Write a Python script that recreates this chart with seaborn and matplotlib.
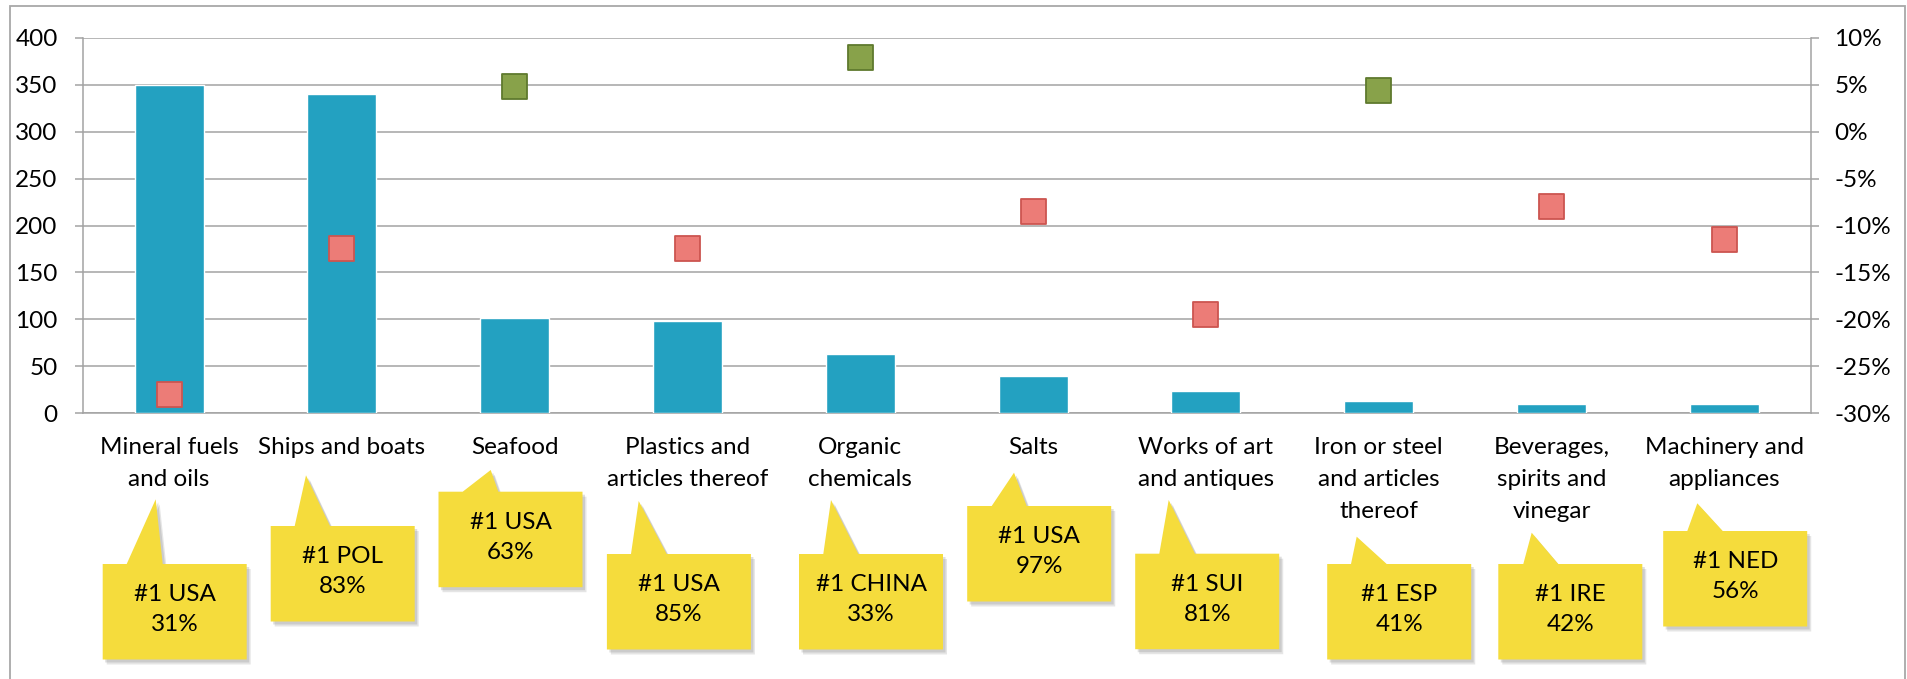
import numpy as np
import pandas as pd
import matplotlib
matplotlib.use("Agg")
import matplotlib.pyplot as plt
from matplotlib.patches import Polygon, Rectangle
import seaborn as sns

# ---------------- data ----------------
categories = ["Mineral fuels\nand oils", "Ships and boats", "Seafood",
              "Plastics and\narticles thereof", "Organic\nchemicals", "Salts",
              "Works of art\nand antiques", "Iron or steel\nand articles\nthereof",
              "Beverages,\nspirits and\nvinegar", "Machinery and\nappliances"]
values = [350, 340, 101, 98, 63, 40, 24, 13, 10, 10]
growth = [-28.0, -12.4, 4.8, -12.4, 7.9, -8.5, -19.5, 4.4, -8.0, -11.5]
leaders = ["USA", "POL", "USA", "USA", "CHINA", "USA", "SUI", "ESP", "IRE", "NED"]
shares = [31, 83, 63, 85, 33, 97, 81, 41, 42, 56]
left_ticks = [0, 50, 100, 150, 200, 250, 300, 350, 400]
right_ticks = [-30, -25, -20, -15, -10, -5, 0, 5, 10]
right_labels = ["-30%", "-25%", "-20%", "-15%", "-10%", "-5%", "0%", "5%", "10%"]

# ---------------- layout (pixels) ----------------
W, H = 1907, 679
# callout: box centre dx, box top y, tip dx, tip y, base-left dx, base-right dx
callout_layout = [
    (5.6, 564, -13.4, 499.3, -42.4, -6.4),
    (0.8, 526, -35.9, 475.3, -47.2, -11.9),
    (-4.2, 491.7, -24.0, 470.0, -52.0, -16.4),
    (-8.6, 554, -48.8, 501.0, -56.5, -20.8),
    (10.7, 554, -29.3, 500.0, -37.0, -2.0),
    (6.1, 506, -19.1, 472.7, -41.4, -6.4),
    (1.3, 553.7, -37.2, 500.0, -46.6, -10.9),
    (20.5, 564, -22.0, 536.7, -27.7, 8.0),
    (18.8, 564, -19.8, 532.7, -28.2, 6.8),
    (10.9, 531, -27.0, 503.3, -37.0, -1.6),
]
BOX_W, BOX_H = 144, 95.5

sns.set_theme(style="white")
FONT = ["Lato", "DejaVu Sans"]
plt.rcParams["font.family"] = FONT
FS = 17.5
GRID = "#a3a3a3"

fig = plt.figure(figsize=(W / 100, H / 100), dpi=100)
ax = fig.add_axes([82.7 / W, 1 - 413.3 / H, (1810.7 - 82.7) / W, (413.3 - 37.7) / H])

df = pd.DataFrame({"cat": categories, "val": values, "growth": growth})
df["sign"] = np.where(df["growth"] >= 0, "up", "down")
df["pos"] = np.arange(len(df))

sns.barplot(data=df, x="pos", y="val", color="#23a1c1", saturation=1,
            width=0.4, ax=ax, zorder=3, native_scale=True)
ax.set_xlim(-0.5, len(df) - 0.5)
ax.set_ylim(0, 400)
ax.set_yticks(left_ticks)
ax.set_yticklabels([str(t) for t in left_ticks], fontsize=FS, color="black")
ax.set_xlabel("")
ax.set_ylabel("")
ax.grid(axis="y", color=GRID, linewidth=1.1, zorder=0)
ax.grid(axis="x", visible=False)
ax.set_axisbelow(True)
for s in ["top", "right"]:
    ax.spines[s].set_visible(False)
for s in ["left", "bottom"]:
    ax.spines[s].set_color(GRID)
    ax.spines[s].set_linewidth(1.1)

ax.set_xticks(df["pos"])
ax.set_xticklabels(categories, fontsize=FS, linespacing=1.64, color="black")
ax.set_xticks(np.arange(-0.5, len(df), 1.0), minor=True)
ax.tick_params(axis="x", which="major", length=0, pad=17)
ax.tick_params(axis="x", which="minor", length=6, width=1.1, color=GRID, direction="out")
ax.tick_params(axis="y", which="major", left=True, length=6, width=1.1, color=GRID, pad=12)

ax2 = ax.twinx()
sns.scatterplot(data=df, x="pos", y="growth", hue="sign",
                palette={"up": "#88a24a", "down": "#ec7c77"}, marker="s", s=18 ** 2,
                ax=ax2, legend=False, zorder=5, linewidth=0)
cols = ax2.collections[0]
edge_map = {"up": "#5f7a2e", "down": "#cc5550"}
cols.set_edgecolors([edge_map[s] for s in df["sign"]])
cols.set_linewidths(1.3)
ax2.set_ylim(-30, 10)
ax2.set_yticks(right_ticks)
ax2.set_yticklabels(right_labels, fontsize=FS, color="black")
ax2.set_ylabel("")
ax2.grid(False)
for s in ["top", "left", "bottom"]:
    ax2.spines[s].set_visible(False)
ax2.spines["right"].set_color(GRID)
ax2.spines["right"].set_linewidth(1.1)
ax2.tick_params(axis="y", right=True, length=6, width=1.1, color=GRID, pad=11)

# outer border
fig.patches.append(Rectangle((10 / W, -0.02), (1905 - 10) / W, 1 - 6 / H + 0.02,
                             transform=fig.transFigure, fill=False,
                             edgecolor="#a8a8a8", linewidth=1.3))

# callouts
def to_fig(xp, yp):
    return (xp / W, 1 - yp / H)

for i, (bdx, top, tdx, ty, bl, br) in enumerate(callout_layout):
    cx = ax.transData.transform((i, 0))[0]
    bx = cx + bdx
    left, right = bx - BOX_W / 2, bx + BOX_W / 2
    bottom = top + BOX_H
    pts = [(left, top), (cx + bl, top), (cx + tdx, ty), (cx + br, top),
           (right, top), (right, bottom), (left, bottom)]
    for off, a in [((4, 5), 0.18), ((2.5, 3), 0.22)]:
        sh = [to_fig(x + off[0], y + off[1]) for x, y in pts]
        fig.patches.append(Polygon(sh, closed=True, transform=fig.transFigure,
                                   facecolor="#707070", alpha=a, edgecolor="none"))
    fig.patches.append(Polygon([to_fig(x, y) for x, y in pts], closed=True,
                               transform=fig.transFigure, facecolor="#f5dc3c",
                               edgecolor="none"))
    fig.text(bx / W, 1 - (top + 45.5) / H, f"#1 {leaders[i]}\n{shares[i]}%",
             ha="center", va="center", fontsize=FS, linespacing=1.55,
             color="black", family=FONT)

fig.savefig("out.png", dpi=100, facecolor="white")
